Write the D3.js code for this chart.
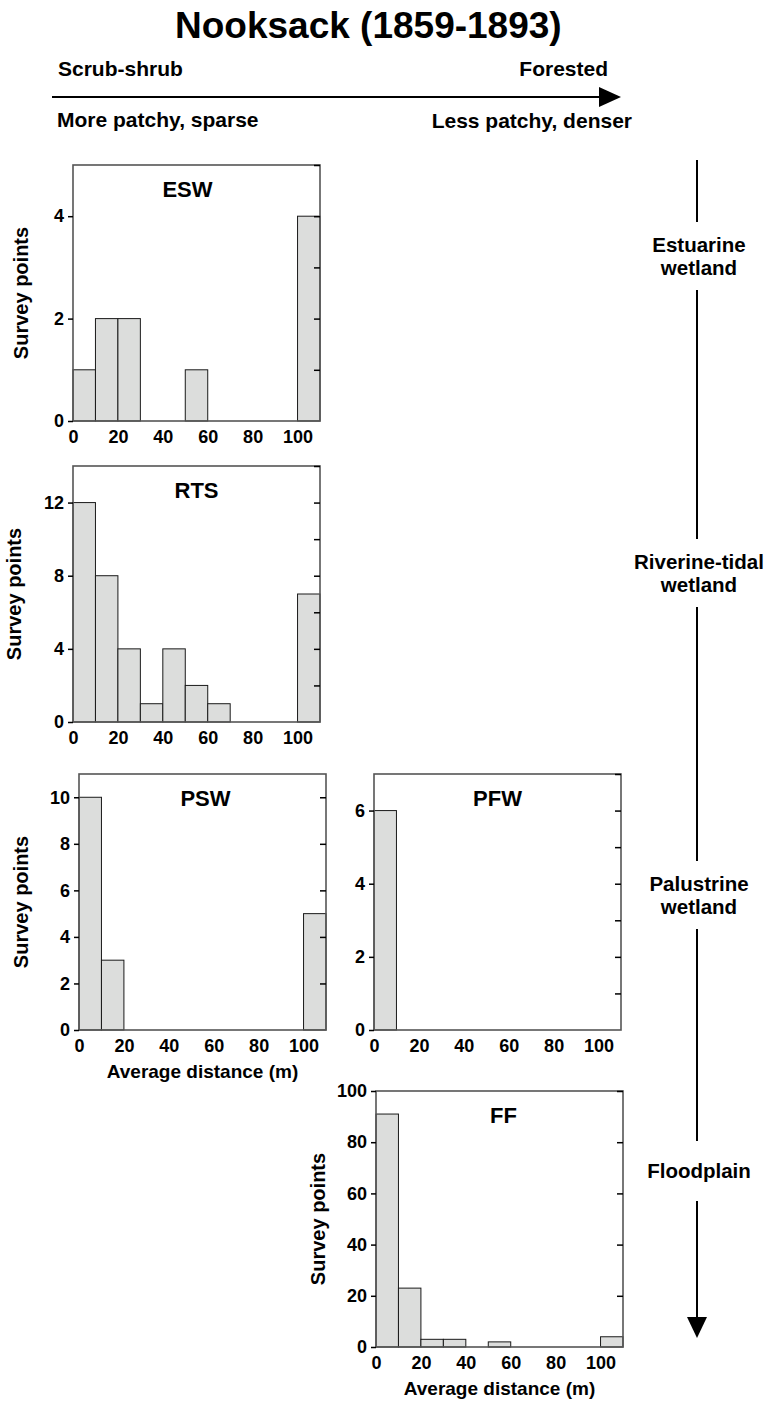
<!DOCTYPE html>
<html>
<head>
<meta charset="utf-8">
<script src="https://cdn.jsdelivr.net/npm/d3@7"></script>
<style>
  html, body { margin: 0; padding: 0; background: #fff; }
  svg text { font-family: "Liberation Sans", Arial, Helvetica, sans-serif; font-weight: bold; fill: #000; }
</style>
</head>
<body>
<svg id="chart" width="768" height="1405"></svg>
<script>
// Histogram bins of average distance (m); the last bin holds everything >100 m
const binStarts = [0, 10, 20, 30, 40, 50, 60, 70, 80, 90, 100];
const binWidth = 10;

// Survey point counts per bin, one list per wetland class
const eswCounts = [1, 2, 2, 0, 0, 1, 0, 0, 0, 0, 4];
const rtsCounts = [12, 8, 4, 1, 4, 2, 1, 0, 0, 0, 7];
const pswCounts = [10, 3, 0, 0, 0, 0, 0, 0, 0, 0, 5];
const pfwCounts = [6, 0, 0, 0, 0, 0, 0, 0, 0, 0, 0];
const ffCounts = [91, 23, 3, 3, 0, 2, 0, 0, 0, 0, 4];

const panelNames = ["ESW", "RTS", "PSW", "PFW", "FF"];
const xTickLabels = [0, 20, 40, 60, 80, 100];

// Gradient labels
const chartTitle = "Nooksack (1859-1893)";
const leftTop = "Scrub-shrub";
const rightTop = "Forested";
const leftBottom = "More patchy, sparse";
const rightBottom = "Less patchy, denser";
const zoneLabels = [["Estuarine", "wetland"], ["Riverine-tidal", "wetland"], ["Palustrine", "wetland"], ["Floodplain"]];
const yTitle = "Survey points";
const xTitle = "Average distance (m)";

// Layout of each histogram panel
const W = 247, H = 256;
const layout = {
  ESW: { left: 73,  top: 165,  yMax: 5,   tickStep: 1,  labelStep: 2,  yTitleX: 28,  xTitle: false, titleDx: -9 },
  RTS: { left: 73,  top: 466,  yMax: 14,  tickStep: 2,  labelStep: 4,  yTitleX: 21,  xTitle: false, titleDx: 0 },
  PSW: { left: 79,  top: 774,  yMax: 11,  tickStep: 2,  labelStep: 2,  yTitleX: 28,  xTitle: true,  titleDx: 3 },
  PFW: { left: 374, top: 774,  yMax: 7,   tickStep: 1,  labelStep: 2,  yTitleX: null, xTitle: false, titleDx: 0 },
  FF:  { left: 376, top: 1091, yMax: 100, tickStep: 20, labelStep: 20, yTitleX: 325, xTitle: true,  titleDx: 4 }
};
const countsByPanel = { ESW: eswCounts, RTS: rtsCounts, PSW: pswCounts, PFW: pfwCounts, FF: ffCounts };

const svg = d3.select("#chart");

// ---- Title and horizontal gradient arrow ----
svg.append("text").attr("x", 175).attr("y", 38).attr("font-size", 37).text(chartTitle);

svg.append("text").attr("x", 58).attr("y", 76).attr("font-size", 21).text(leftTop);
svg.append("text").attr("x", 608).attr("y", 76).attr("font-size", 21).attr("text-anchor", "end").text(rightTop);
svg.append("text").attr("x", 57).attr("y", 127).attr("font-size", 21).text(leftBottom);
svg.append("text").attr("x", 632).attr("y", 128).attr("font-size", 21).attr("text-anchor", "end").text(rightBottom);

svg.append("line").attr("x1", 52).attr("x2", 602).attr("y1", 97).attr("y2", 97)
  .attr("stroke", "#000").attr("stroke-width", 2);
svg.append("path").attr("d", "M599,87 L621,97 L599,107 Z").attr("fill", "#000");

// ---- Vertical zone arrow on the right ----
const zoneX = 697;
const zoneCenters = [256, 573, 895, 1171];
const lineTop = 160, headBase = 1317, headTip = 1338;
let segStart = lineTop;
zoneLabels.forEach((lines, i) => {
  const c = zoneCenters[i];
  const half = lines.length > 1 ? 34 : 30;
  svg.append("line").attr("x1", zoneX).attr("x2", zoneX)
    .attr("y1", segStart).attr("y2", c - half)
    .attr("stroke", "#000").attr("stroke-width", 2);
  segStart = c + half;
  const lh = 23;
  const firstBaseline = c + 7 - (lines.length - 1) * lh / 2;
  lines.forEach((t, j) => {
    svg.append("text").attr("x", zoneX + 2).attr("y", firstBaseline + j * lh)
      .attr("font-size", 20.5).attr("text-anchor", "middle").text(t);
  });
});
svg.append("line").attr("x1", zoneX).attr("x2", zoneX)
  .attr("y1", segStart).attr("y2", headBase + 1)
  .attr("stroke", "#000").attr("stroke-width", 2);
svg.append("path")
  .attr("d", `M${zoneX - 10},${headBase} L${zoneX + 10},${headBase} L${zoneX},${headTip} Z`)
  .attr("fill", "#000");

// ---- Histogram panels ----
panelNames.forEach(name => {
  const L = layout[name];
  const counts = countsByPanel[name];
  const g = svg.append("g").attr("transform", `translate(${L.left},${L.top})`);

  const x = d3.scaleLinear().domain([0, 110]).range([0, W]);
  const y = d3.scaleLinear().domain([0, L.yMax]).range([H, 0]);

  const bins = binStarts.map((b, i) => ({ x0: b, x1: b + binWidth, n: counts[i] }))
    .filter(d => d.n > 0);

  g.selectAll("rect.bar").data(bins).join("rect")
    .attr("class", "bar")
    .attr("x", d => x(d.x0))
    .attr("width", d => x(d.x1) - x(d.x0))
    .attr("y", d => y(d.n))
    .attr("height", d => y(0) - y(d.n))
    .attr("fill", "#dcdddc")
    .attr("stroke", "#1a1a1a")
    .attr("stroke-width", 1);

  // frame
  g.append("rect").attr("x", 0).attr("y", 0).attr("width", W).attr("height", H)
    .attr("fill", "none").attr("stroke", "#555").attr("stroke-width", 1.6);

  const allTicks = d3.range(0, L.yMax + 1e-9, L.tickStep);
  const labelTicks = d3.range(0, L.yMax + 1e-9, L.labelStep);

  // left axis with labels
  const ax = g.append("g").call(d3.axisLeft(y).tickValues(labelTicks).tickSize(5).tickPadding(4).tickFormat(d3.format("d")));
  ax.select(".domain").remove();
  ax.selectAll("line").attr("stroke", "#000").attr("stroke-width", 1.5);
  ax.selectAll("text").attr("font-size", 18).attr("font-family", null).style("font-weight", "bold").attr("fill", "#000");

  // mirrored ticks on the right edge
  const ar = g.append("g").attr("transform", `translate(${W},0)`)
    .call(d3.axisRight(y).tickValues(allTicks.filter(v => v > 0)).tickSize(-6).tickFormat(""));
  ar.select(".domain").remove();
  ar.selectAll("line").attr("stroke", "#000").attr("stroke-width", 1.5);

  // bottom axis labels
  const bx = g.append("g").attr("transform", `translate(0,${H})`)
    .call(d3.axisBottom(x).tickValues(xTickLabels).tickSize(0).tickPadding(9));
  bx.select(".domain").remove();
  bx.selectAll("text").attr("font-size", 18).attr("font-family", null).style("font-weight", "bold").attr("fill", "#000");

  // panel title
  g.append("text").attr("x", W / 2 + L.titleDx).attr("y", 32)
    .attr("font-size", 22).attr("text-anchor", "middle").text(name);

  if (L.yTitleX !== null) {
    svg.append("text")
      .attr("transform", `translate(${L.yTitleX},${L.top + H / 2}) rotate(-90)`)
      .attr("font-size", 20).attr("text-anchor", "middle").text(yTitle);
  }
  if (L.xTitle) {
    g.append("text").attr("x", W / 2).attr("y", H + 48)
      .attr("font-size", 19).attr("text-anchor", "middle").text(xTitle);
  }
});
</script>
</body>
</html>
